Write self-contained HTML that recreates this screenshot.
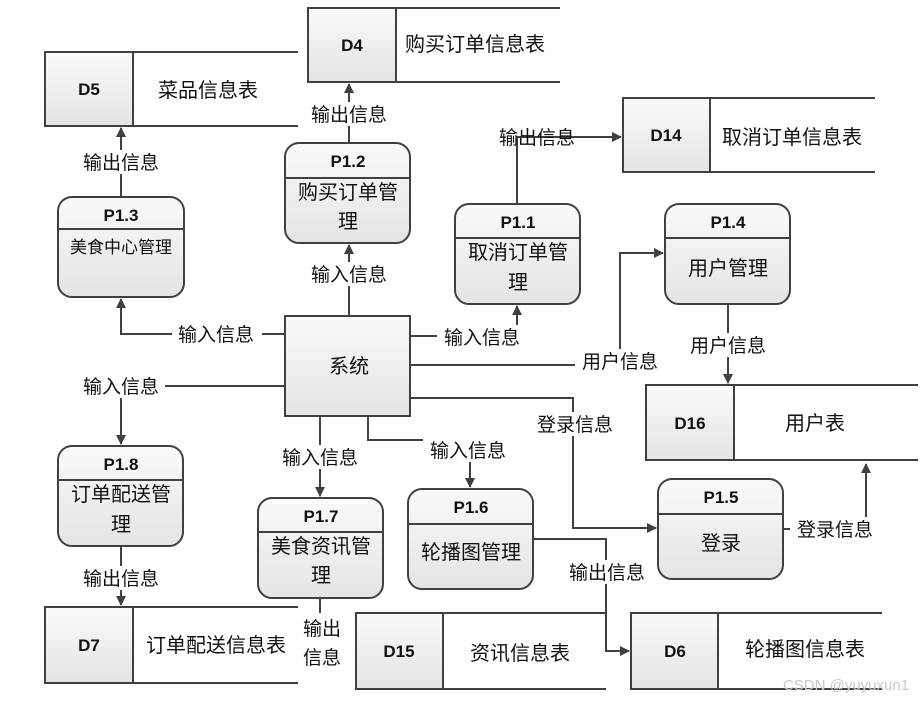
<!DOCTYPE html>
<html><head><meta charset="utf-8"><style>
body{margin:0;background:#fff}
svg text{font-family:"Liberation Sans","Noto Sans CJK SC",sans-serif;fill:#111}
.l{fill:none;stroke:#404040;stroke-width:2}
.b{fill:url(#g);stroke:#404040;stroke-width:2}
.id{font-weight:bold;font-size:17px}
.t{font-size:20px}
.lab{font-size:19px}
</style></head><body>
<svg width="923" height="700" viewBox="0 0 923 700" xmlns="http://www.w3.org/2000/svg">
<defs>
<linearGradient id="g" x1="0" y1="0" x2="0" y2="1"><stop offset="0" stop-color="#fafafa"/><stop offset="1" stop-color="#e4e4e4"/></linearGradient>
<marker id="a" markerWidth="10" markerHeight="10" refX="9" refY="5" orient="auto" markerUnits="userSpaceOnUse"><path d="M0,0 L10,5 L0,10 z" fill="#404040"/></marker>
</defs>
<g text-anchor="middle">
<!-- data stores -->
<g>
<rect class="b" x="45" y="52" width="88" height="74"/><path class="l" d="M133,52H298M133,126H298"/><text class="id" x="89" y="95">D5</text><text class="t" x="208" y="97">菜品信息表</text>
<rect class="b" x="308" y="8" width="88" height="74"/><path class="l" d="M396,8H560M396,82H560"/><text class="id" x="352" y="51">D4</text><text class="t" x="475" y="51">购买订单信息表</text>
<rect class="b" x="623" y="98" width="87" height="74"/><path class="l" d="M710,98H875M710,172H875"/><text class="id" x="666" y="141">D14</text><text class="t" x="792" y="144">取消订单信息表</text>
<rect class="b" x="646" y="385" width="88" height="75"/><path class="l" d="M734,385H918M734,460H918"/><text class="id" x="690" y="429">D16</text><text class="t" x="815" y="430">用户表</text>
<rect class="b" x="45" y="607" width="88" height="76"/><path class="l" d="M133,607H298M133,683H298"/><text class="id" x="89" y="651">D7</text><text class="t" x="216" y="652">订单配送信息表</text>
<rect class="b" x="356" y="613" width="87" height="76"/><path class="l" d="M443,613H606M443,689H606"/><text class="id" x="399" y="657">D15</text><text class="t" x="520" y="660">资讯信息表</text>
<rect class="b" x="631" y="613" width="87" height="76"/><path class="l" d="M718,613H882M718,689H882"/><text class="id" x="675" y="657">D6</text><text class="t" x="805" y="656">轮播图信息表</text>
</g>
<!-- processes -->
<g>
<rect class="b" x="58" y="197" width="126" height="100" rx="14"/><path class="l" d="M58,229H184"/><text class="id" x="121" y="221">P1.3</text><text class="t" x="121" y="253" style="font-size:17px">美食中心管理</text>
<rect class="b" x="285" y="143" width="125" height="100" rx="14"/><path class="l" d="M285,178H410"/><text class="id" x="348" y="167">P1.2</text><text class="t" x="348" y="199">购买订单管</text><text class="t" x="348" y="228">理</text>
<rect class="b" x="455" y="204" width="125" height="100" rx="14"/><path class="l" d="M455,238H580"/><text class="id" x="518" y="228">P1.1</text><text class="t" x="518" y="259">取消订单管</text><text class="t" x="518" y="289">理</text>
<rect class="b" x="665" y="204" width="125" height="100" rx="14"/><path class="l" d="M665,238H790"/><text class="id" x="728" y="228">P1.4</text><text class="t" x="728" y="275">用户管理</text>
<rect class="b" x="58" y="446" width="125" height="100" rx="14"/><path class="l" d="M58,480H183"/><text class="id" x="121" y="470">P1.8</text><text class="t" x="121" y="501">订单配送管</text><text class="t" x="121" y="531">理</text>
<rect class="b" x="258" y="498" width="125" height="100" rx="14"/><path class="l" d="M258,532H383"/><text class="id" x="321" y="522">P1.7</text><text class="t" x="321" y="553">美食资讯管</text><text class="t" x="321" y="582">理</text>
<rect class="b" x="408" y="489" width="125" height="100" rx="14"/><path class="l" d="M408,524H533"/><text class="id" x="471" y="513">P1.6</text><text class="t" x="471" y="559">轮播图管理</text>
<rect class="b" x="658" y="479" width="125" height="100" rx="14"/><path class="l" d="M658,514H783"/><text class="id" x="721" y="503">P1.5</text><text class="t" x="721" y="550">登录</text>
<rect class="b" x="285" y="316" width="125" height="100"/><text class="t" x="349" y="373">系统</text>
</g>
<!-- connectors -->
<g>
<path class="l" d="M121,197V128" marker-end="url(#a)"/>
<path class="l" d="M285,334H121V299" marker-end="url(#a)"/>
<path class="l" d="M349,143V84" marker-end="url(#a)"/>
<path class="l" d="M349,316V245" marker-end="url(#a)"/>
<path class="l" d="M517,204V137H621" marker-end="url(#a)"/>
<path class="l" d="M410,336H517V306" marker-end="url(#a)"/>
<path class="l" d="M410,365H620V253H663" marker-end="url(#a)"/>
<path class="l" d="M728,304V383" marker-end="url(#a)"/>
<path class="l" d="M285,386H121V444" marker-end="url(#a)"/>
<path class="l" d="M121,546V605" marker-end="url(#a)"/>
<path class="l" d="M320,416V496" marker-end="url(#a)"/>
<path class="l" d="M368,416V440H470V487" marker-end="url(#a)"/>
<path class="l" d="M410,398H573V528H656" marker-end="url(#a)"/>
<path class="l" d="M783,529H866V464" marker-end="url(#a)"/>
<path class="l" d="M533,539H606V651H629" marker-end="url(#a)"/>
<path class="l" d="M320,598V613"/>
</g>
<!-- labels -->
<g class="lab">
<g fill="#fff" stroke="none">
<rect x="77" y="150" width="88" height="24" fill="#fff"/>
<rect x="172" y="322" width="90" height="24" fill="#fff"/>
<rect x="304" y="102" width="90" height="24" fill="#fff"/>
<rect x="304" y="262" width="90" height="24" fill="#fff"/>
<rect x="437" y="325" width="90" height="24" fill="#fff"/>
<rect x="575" y="349" width="90" height="24" fill="#fff"/>
<rect x="683" y="333" width="90" height="24" fill="#fff"/>
<rect x="77" y="374" width="88" height="24" fill="#fff"/>
<rect x="77" y="566" width="88" height="24" fill="#fff"/>
<rect x="275" y="445" width="90" height="24" fill="#fff"/>
<rect x="423" y="438" width="90" height="24" fill="#fff"/>
<rect x="530" y="412" width="90" height="24" fill="#fff"/>
<rect x="790" y="517" width="90" height="24" fill="#fff"/>
<rect x="562" y="560" width="90" height="24" fill="#fff"/>
<rect x="298" y="616" width="46" height="52" fill="#fff"/>
</g>
<text x="121" y="169">输出信息</text>
<text x="216" y="341">输入信息</text>
<text x="349" y="121">输出信息</text>
<text x="349" y="281">输入信息</text>
<text x="537" y="144">输出信息</text>
<text x="482" y="344">输入信息</text>
<text x="620" y="368">用户信息</text>
<text x="728" y="352">用户信息</text>
<text x="121" y="393">输入信息</text>
<text x="121" y="585">输出信息</text>
<text x="320" y="464">输入信息</text>
<text x="468" y="457">输入信息</text>
<text x="575" y="431">登录信息</text>
<text x="835" y="536">登录信息</text>
<text x="607" y="579">输出信息</text>
<text x="322" y="635">输出</text>
<text x="322" y="664">信息</text>
</g>
<text x="846" y="690" style="font-size:15px;fill:#c8c8c8">CSDN @yuyuxun1</text>
</g>
</svg>
</body></html>
